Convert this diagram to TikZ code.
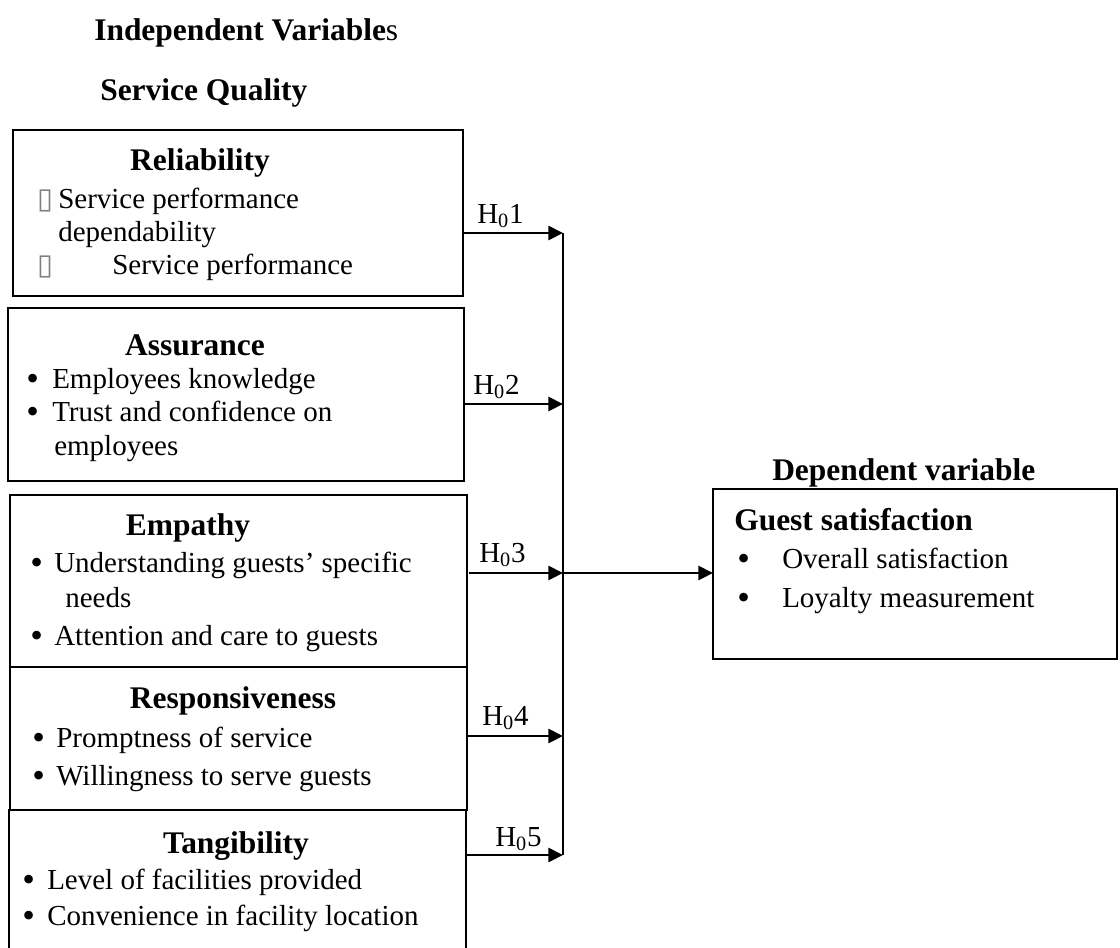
\documentclass[tikz,border=0pt]{standalone}
\usepackage{fontspec}
\setmainfont{Liberation Serif}
\newfontfamily\symfont{DejaVu Sans}
\usetikzlibrary{arrows.meta}
\newcommand\bodyfnt{\fontsize{21.75pt}{26pt}\selectfont}
\newcommand\hdrfnt{\fontsize{23.6pt}{28pt}\selectfont\bfseries}
\newcommand\nodef{{\symfont\color{gray}\char"25AF}}
\newcommand\bul{\raisebox{-1.6pt}{\fontsize{27pt}{27pt}\selectfont\textbullet}}
\tikzset{
  boxline/.style={draw, line width=1.5pt, inner sep=0pt, outer sep=0pt, anchor=north west},
  conn/.style={line width=2.2pt, -{Triangle[length=11pt,width=10.5pt]}},
  vline/.style={line width=1.5pt},
  txt/.style={anchor=base west, inner sep=0pt, font=\bodyfnt},
  hdr/.style={anchor=base, inner sep=0pt, font=\hdrfnt},
  hlab/.style={anchor=base west, inner sep=0pt, font=\bodyfnt},
}
\begin{document}
\begin{tikzpicture}[x=0.75pt,y=-0.75pt]
\useasboundingbox (0,0) rectangle (1120,947);
\clip (0,0) rectangle (1120,947);

% titles
\node[anchor=base west, inner sep=0pt] (title) at (94,40) {\hdrfnt Independent Variable{\mdseries s}};
\node[anchor=base west, inner sep=0pt] (sq) at (100,100) {\hdrfnt Service Quality};

% boxes
\node[boxline, minimum width=0.75pt*450, minimum height=0.75pt*166] (rel) at (13,130) {};
\node[boxline, minimum width=0.75pt*456, minimum height=0.75pt*173] (ass) at (8,308) {};
\node[boxline, minimum width=0.75pt*457, minimum height=0.75pt*172] (emp) at (10,495) {};
\node[boxline, minimum width=0.75pt*457, minimum height=0.75pt*143] (resp) at (10,667) {};
\node[anchor=north west, inner sep=0pt, outer sep=0pt, minimum width=0.75pt*457, minimum height=0.75pt*140] (tang) at (9,810) {};
\draw[line width=1.5pt] (tang.south west) -- (tang.north west) -- (tang.north east) -- (tang.south east);
\node[boxline, minimum width=0.75pt*404, minimum height=0.75pt*170] (guest) at (713,489) {};

% Reliability
\node[hdr] (relh) at (200,170) {Reliability};
\node[txt] (relb1) at (37,208) {\nodef};
\node[txt] (relt1) at (58,208) {Service performance};
\node[txt] (relt2) at (58,241) {dependability};
\node[txt] (relb2) at (37,274) {\nodef};
\node[txt] (relt3) at (112,274) {Service performance};

% Assurance
\node[hdr] (assh) at (195,355) {Assurance};
\node[txt] (assb1) at (26,388) {\bul};
\node[txt] (asst1) at (52,388) {Employees knowledge};
\node[txt] (assb2) at (26,421) {\bul};
\node[txt] (asst2) at (52,421) {Trust and confidence on};
\node[txt] (asst3) at (54,455) {employees};

% Empathy
\node[hdr] (emph) at (188,535) {Empathy};
\node[txt] (empb1) at (30,572) {\bul};
\node[txt] (empt1) at (54,572) {Understanding guests’ specific};
\node[txt] (empt2) at (65,607) {needs};
\node[txt] (empb2) at (30,645) {\bul};
\node[txt] (empt3) at (54,645) {Attention and care to guests};

% Responsiveness
\node[hdr] (resh) at (233,708) {Responsiveness};
\node[txt] (resb1) at (32,747) {\bul};
\node[txt] (rest1) at (56,747) {Promptness of service};
\node[txt] (resb2) at (32,785) {\bul};
\node[txt] (rest2) at (56,785) {Willingness to serve guests};

% Tangibility
\node[hdr] (tanh) at (236,853) {Tangibility};
\node[txt] (tanb1) at (22,889) {\bul};
\node[txt] (tant1) at (47,889) {Level of facilities provided};
\node[txt] (tanb2) at (22,925) {\bul};
\node[txt] (tant2) at (47,925) {Convenience in facility location};

% Dependent
\node[anchor=base west, inner sep=0pt] (dep) at (772,480) {\hdrfnt Dependent variable};
\node[anchor=base west, inner sep=0pt] (gsh) at (734,530) {\hdrfnt Guest satisfaction};
\node[txt] (gsb1) at (737,568) {\bul};
\node[txt] (gst1) at (782,568) {Overall satisfaction};
\node[txt] (gsb2) at (737,607) {\bul};
\node[txt] (gst2) at (782,607) {Loyalty measurement};

% junction coordinates
\coordinate (j1) at (563,233);
\coordinate (j2) at (563,404);
\coordinate (j3) at (563,573);
\coordinate (j4) at (563,736);
\coordinate (j5) at (563,855);

\draw[vline] (j1) -- (j5);
\draw[conn] (rel.east |- j1) -- (j1);
\draw[conn] (ass.east |- j2) -- (j2);
\draw[conn] ([xshift=1.5pt]emp.east |- j3) -- (j3);
\draw[conn] (resp.east |- j4) -- (j4);
\draw[conn] (tang.east |- j5) -- (j5);
\draw[conn] (j3) -- (guest.west |- j3);

% labels
\node[hlab] (l1) at (477,223) {H\textsubscript{0}1};
\node[hlab] (l2) at (473,394) {H\textsubscript{0}2};
\node[hlab] (l3) at (479,562) {H\textsubscript{0}3};
\node[hlab] (l4) at (482,725) {H\textsubscript{0}4};
\node[hlab] (l5) at (495,846) {H\textsubscript{0}5};
\end{tikzpicture}
\end{document}
